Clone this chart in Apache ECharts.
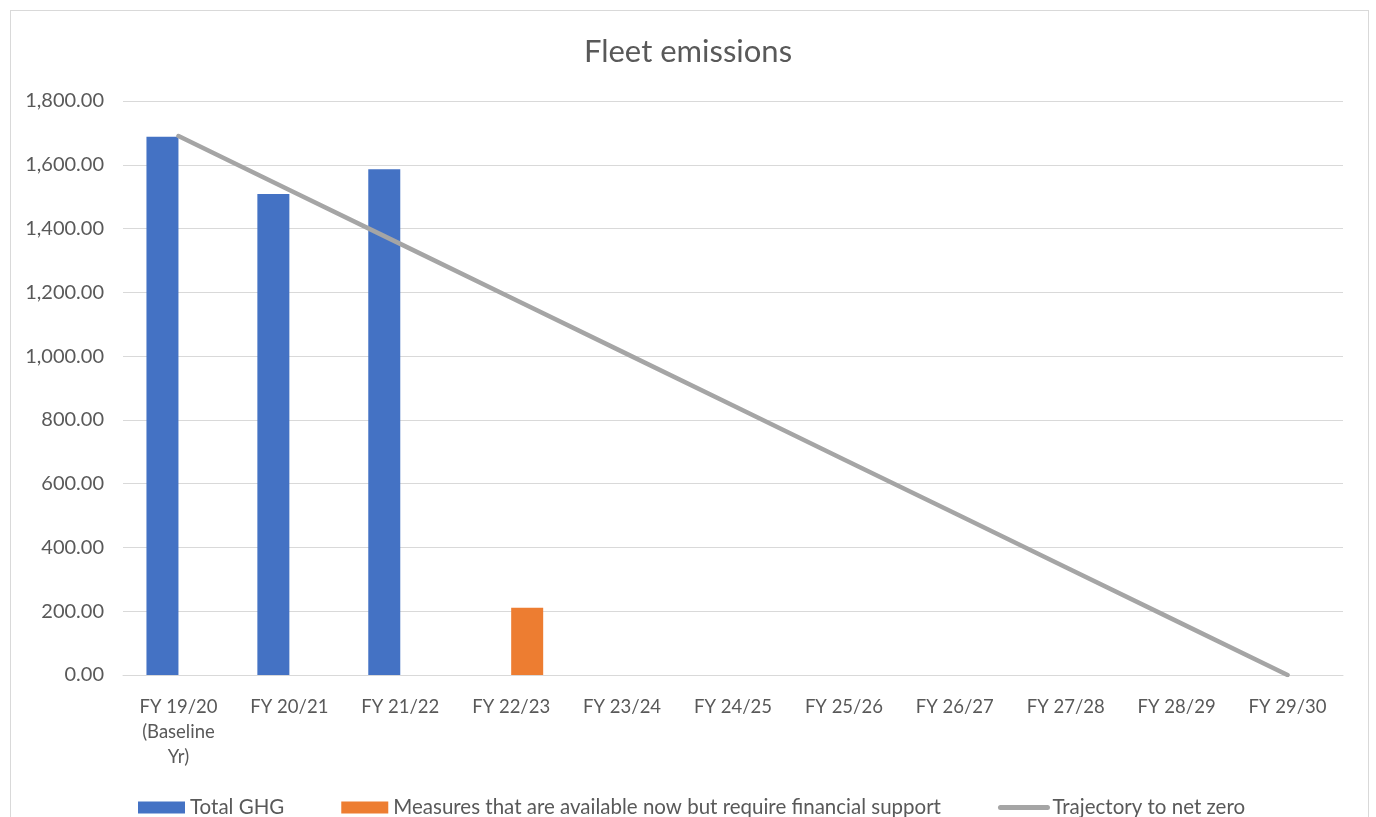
<!DOCTYPE html>
<html>
<head>
<meta charset="utf-8">
<script src="https://cdn.jsdelivr.net/npm/echarts@6/dist/echarts.min.js"></script>
<style>
html,body{margin:0;padding:0;background:#fff;overflow:hidden;}
#frame{position:absolute;left:10px;top:10px;width:1359px;height:830px;border:1px solid #d9d9d9;box-sizing:border-box;}
#chart{position:absolute;left:0;top:0;width:1376px;height:817px;}
</style>
</head>
<body>
<div id="frame"></div>
<div id="chart"></div>
<script>
const categories = ["FY 19/20\n(Baseline\nYr)", "FY 20/21", "FY 21/22", "FY 22/23", "FY 23/24", "FY 24/25", "FY 25/26", "FY 26/27", "FY 27/28", "FY 28/29", "FY 29/30"];
const totalGHG = [1688, 1508, 1586, null, null, null, null, null, null, null, null];
const measures = [null, null, null, 211, null, null, null, null, null, null, null];
const trajectory = [1690, 1521, 1352, 1183, 1014, 845, 676, 507, 338, 169, 0];
const yTicks = {min: 0, max: 1800, interval: 200};

const font = 'Lato, "Open Sans", sans-serif';
const chart = echarts.init(document.getElementById('chart'));
chart.setOption({
  animation: false,
  title: {
    text: 'Fleet emissions', left: 'center', top: 31,
    textStyle: {fontFamily: font, fontSize: 31, fontWeight: 'normal', color: '#595959'}
  },
  grid: {left: 123, right: 33, top: 101, bottom: 142, containLabel: false},
  legend: {
    left: 133, top: 792, itemWidth: 47, itemHeight: 12, itemGap: 57,
    textStyle: {fontFamily: font, fontSize: 20.5, color: '#595959'},
    data: [
      {name: 'Total GHG', icon: 'rect'},
      {name: 'Measures that are available now but require financial support', icon: 'rect'},
      {name: 'Trajectory to net zero', itemStyle: {color: 'rgba(0,0,0,0)', borderWidth: 0, opacity: 0},
       lineStyle: {color: '#a5a5a5', width: 5, cap: 'round'}}
    ]
  },
  xAxis: {
    type: 'category', data: categories, boundaryGap: true,
    axisLine: {lineStyle: {color: '#d9d9d9', width: 1}},
    axisTick: {show: false},
    axisLabel: {fontFamily: font, fontSize: 18.5, color: '#595959', lineHeight: 25, margin: 20, interval: 0}
  },
  yAxis: {
    type: 'value', min: yTicks.min, max: yTicks.max, interval: yTicks.interval,
    axisLine: {show: false}, axisTick: {show: false},
    splitLine: {lineStyle: {color: '#d9d9d9', width: 1}},
    axisLabel: {
      fontFamily: font, fontSize: 20, color: '#595959', margin: 19,
      formatter: v => v.toLocaleString('en-US', {minimumFractionDigits: 2, maximumFractionDigits: 2})
    }
  },
  series: [
    {name: 'Total GHG', type: 'bar', data: totalGHG, barWidth: 32, barGap: '0%',
     itemStyle: {color: '#4472c4'}},
    {name: 'Measures that are available now but require financial support', type: 'bar', data: measures, barWidth: 32,
     itemStyle: {color: '#ed7d31'}},
    {name: 'Trajectory to net zero', type: 'line', data: trajectory, symbol: 'none',
     lineStyle: {color: '#a5a5a5', width: 4.5, cap: 'round'}, itemStyle: {color: '#a5a5a5'}}
  ]
});
</script>
</body>
</html>
